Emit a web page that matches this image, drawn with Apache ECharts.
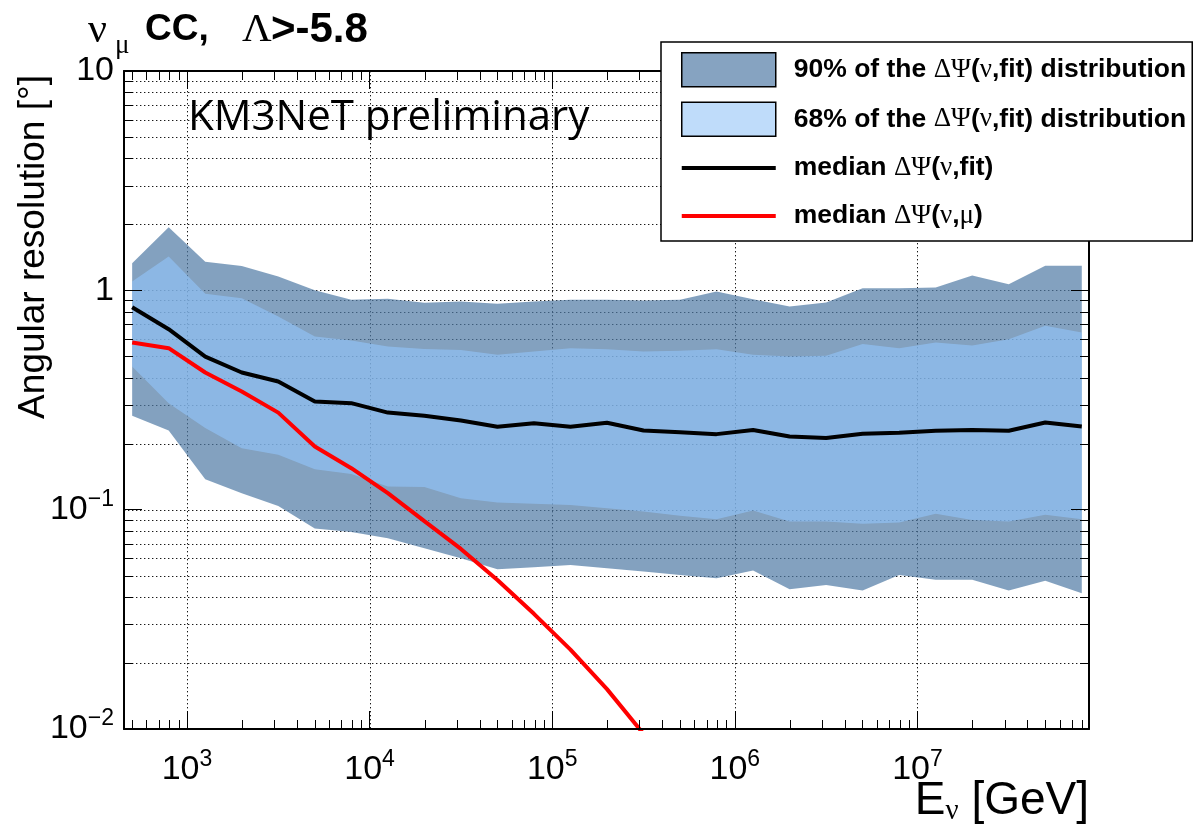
<!DOCTYPE html>
<html>
<head>
<meta charset="utf-8">
<script src="https://cdn.jsdelivr.net/npm/echarts@6/dist/echarts.min.js"></script>
<style>
  html, body { margin: 0; padding: 0; background: #ffffff; }
  #chart { width: 1195px; height: 824px; }
</style>
</head>
<body>
<div id="chart"></div>
<script>
// Neutrino energy bin centres [GeV]
const energy = [501, 794, 1259, 1995, 3162, 5012, 7943, 12589, 19953, 31623,
  50119, 79433, 125893, 199526, 316228, 501187, 794328, 1258925, 1995262,
  3162278, 5011872, 7943282, 12589254, 19952623, 31622777, 50118723, 79432823];

// 90% containment band of the fit direction error [deg]
const p90Low = [0.268, 0.2295, 0.1377, 0.1189, 0.104, 0.082, 0.079, 0.074, 0.0667, 0.0601,
  0.0535, 0.0547, 0.056, 0.0541, 0.0522, 0.0504, 0.0487, 0.0528, 0.0434, 0.0454,
  0.0428, 0.0504, 0.0479, 0.0479, 0.0428, 0.0474, 0.0416];
const p90High = [1.33, 1.94, 1.35, 1.29, 1.156, 1.0, 0.905, 0.915, 0.877, 0.889,
  0.868, 0.889, 0.905, 0.905, 0.899, 0.905, 0.987, 0.91, 0.844, 0.88,
  1.023, 1.023, 1.03, 1.168, 1.067, 1.293, 1.293];

// 68% containment band [deg]
const p68Low = [0.449, 0.306, 0.2355, 0.1907, 0.178, 0.153, 0.1456, 0.1274, 0.1267, 0.1128,
  0.1077, 0.1063, 0.105, 0.1016, 0.098, 0.0937, 0.0905, 0.099, 0.0883, 0.0883,
  0.0862, 0.0874, 0.0957, 0.0898, 0.0883, 0.0947, 0.0905];
const p68High = [1.097, 1.426, 0.964, 0.921, 0.760, 0.616, 0.591, 0.554, 0.54, 0.535,
  0.508, 0.526, 0.545, 0.539, 0.526, 0.531, 0.539, 0.508, 0.499, 0.503,
  0.570, 0.545, 0.578, 0.56, 0.599, 0.689, 0.642];

// Median angle between neutrino and reconstructed track [deg]
const medianFit = [0.838, 0.665, 0.499, 0.422, 0.384, 0.311, 0.306, 0.277, 0.268, 0.255,
  0.239, 0.248, 0.239, 0.249, 0.2295, 0.2256, 0.221, 0.231, 0.2155, 0.212,
  0.2217, 0.2245, 0.229, 0.231, 0.229, 0.2496, 0.2393];

// Median angle between neutrino and muon [deg] (first bins only)
const medianMu = [0.578, 0.545, 0.422, 0.3455, 0.277, 0.194, 0.1546, 0.119, 0.0887, 0.0662,
  0.0478, 0.0335, 0.0230, 0.0152, 0.0095];

// Axis ranges
const xMin = 452, xMax = 8.7e7;
const yMin = 0.01, yMax = 10;

// Legend entries
const legendNames = [
  '90% of the ΔΨ(ν,fit) distribution',
  '68% of the ΔΨ(ν,fit) distribution',
  'median ΔΨ(ν,fit)',
  'median ΔΨ(ν,μ)'
];
const legendRich = {
  [legendNames[0]]: '{b|90% of the }{g|ΔΨ}{b|(}{g|ν}{b|,fit) distribution}',
  [legendNames[1]]: '{b|68% of the }{g|ΔΨ}{b|(}{g|ν}{b|,fit) distribution}',
  [legendNames[2]]: '{b|median }{g|ΔΨ}{b|(}{g|ν}{b|,fit)}',
  [legendNames[3]]: '{b|median }{g|ΔΨ}{b|(}{g|ν}{b|,}{g|μ}{b|)}'
};

// Minor tick positions (2..9 times each power of ten)
function multiples(lo, hi, first) {
  const out = [];
  for (let e = -3; e <= 9; e++) {
    for (let d = first; d <= 9; d++) {
      const v = d * Math.pow(10, e);
      if (v > lo * 1.0001 && v < hi * 0.9999) out.push(v);
    }
  }
  return out;
}
const xMinor = multiples(xMin, xMax, 2);
const yMinor = multiples(yMin, yMax, 2);
const yGridLines = multiples(yMin, yMax, 1);
const xGridLines = [1e3, 1e4, 1e5, 1e6, 1e7];

const SANS = '"Liberation Sans", Arial, Helvetica, sans-serif';
const SERIF = '"Liberation Serif", "Times New Roman", serif';

const chart = echarts.init(document.getElementById('chart'), null, { renderer: 'canvas' });

function powerLabel(v) {
  const e = Math.log10(v);
  const r = Math.round(e);
  if (Math.abs(e - r) > 1e-6) return '';
  if (r === 0) return '{b|1}';
  if (r === 1) return '{b|10}';
  return '{b|10}{s|' + String(r).replace('-', '\u2212') + '}';
}
const labelRich = {
  b: { fontFamily: SANS, fontSize: 34, color: '#000', lineHeight: 40 },
  s: { fontFamily: SANS, fontSize: 23, color: '#000', lineHeight: 40, padding: [0, 0, 20, 0] }
};

function baseAxis(extra) {
  return Object.assign({
    type: 'log', logBase: 10, z: 10,
    axisLine: { show: true, onZero: false, lineStyle: { color: '#000', width: 2 } },
    axisTick: { show: true, inside: true, length: 18, lineStyle: { color: '#000', width: 1 } },
    splitLine: { show: false },
    minorTick: { show: false },
    minorSplitLine: { show: false }
  }, extra);
}

// Series used only for guide drawing (grid lines / minor ticks)
function guideSeries(z, build) {
  return {
    type: 'custom', z, silent: true,
    data: [[energy[0], medianFit[0]]],
    encode: { x: 0, y: 1 },
    renderItem: (params, api) => ({ type: 'group', children: build(params.coordSys, api) })
  };
}

const dotted = { stroke: 'rgba(0,0,0,0.9)', lineWidth: 1, lineDash: [1.4, 2.6] };

const gridGuide = guideSeries(1, (cs, api) => {
  const out = [];
  yGridLines.forEach(v => {
    const y = Math.round(api.coord([xMin, v])[1]) + 0.5;
    out.push({ type: 'line', shape: { x1: cs.x, y1: y, x2: cs.x + cs.width, y2: y }, style: dotted });
  });
  xGridLines.forEach(v => {
    const x = Math.round(api.coord([v, yMin])[0]) + 0.5;
    out.push({ type: 'line', shape: { x1: x, y1: cs.y, x2: x, y2: cs.y + cs.height }, style: dotted });
  });
  return out;
});

const tickStyle = { stroke: '#000', lineWidth: 1 };
const minorGuide = guideSeries(6, (cs, api) => {
  const out = [];
  yMinor.forEach(v => {
    const y = Math.round(api.coord([xMin, v])[1]) + 0.5;
    out.push({ type: 'line', shape: { x1: cs.x, y1: y, x2: cs.x + 9, y2: y }, style: tickStyle });
    out.push({ type: 'line', shape: { x1: cs.x + cs.width - 9, y1: y, x2: cs.x + cs.width, y2: y }, style: tickStyle });
  });
  xMinor.forEach(v => {
    const x = Math.round(api.coord([v, yMin])[0]) + 0.5;
    out.push({ type: 'line', shape: { x1: x, y1: cs.y + cs.height, x2: x, y2: cs.y + cs.height - 9 }, style: tickStyle });
    out.push({ type: 'line', shape: { x1: x, y1: cs.y, x2: x, y2: cs.y + 9 }, style: tickStyle });
  });
  return out;
});

// Filled containment band between two curves
function bandSeries(name, low, high, fill, legendColor, z) {
  return {
    type: 'custom', name, z,
    data: energy.map((e, i) => [e, low[i], high[i]]),
    encode: { x: 0, y: [1, 2] },
    itemStyle: { color: legendColor },
    renderItem: (params, api) => {
      if (params.dataIndex !== 0) return null;
      const pts = [];
      for (let i = 0; i < energy.length; i++) pts.push(api.coord([energy[i], high[i]]));
      for (let i = energy.length - 1; i >= 0; i--) pts.push(api.coord([energy[i], low[i]]));
      return { type: 'polygon', shape: { points: pts }, style: { fill, stroke: null } };
    }
  };
}

// Legend line marker: thick stroke centred in a full-height box
const lineIcon = 'path://M0,0 L0.01,0 Z M0,15 L100,15 L100,19.4 L0,19.4 Z M0,34.4 L0.01,34.4 Z';

const option = {
  animation: false,
  backgroundColor: '#ffffff',
  grid: { left: 124, top: 71, width: 965, height: 658, containLabel: false },
  xAxis: [
    baseAxis({
      position: 'bottom', min: xMin, max: xMax,
      axisLabel: { show: true, margin: 21, formatter: powerLabel, rich: labelRich,
        showMinLabel: false, showMaxLabel: false }
    }),
    baseAxis({ position: 'top', min: xMin, max: xMax, axisLabel: { show: false } })
  ],
  yAxis: [
    baseAxis({
      position: 'left', min: yMin, max: yMax,
      axisLabel: { show: true, margin: 10, formatter: powerLabel, rich: labelRich }
    }),
    baseAxis({ position: 'right', min: yMin, max: yMax, axisLabel: { show: false } })
  ],
  legend: {
    orient: 'vertical', left: 661, top: 42,
    padding: [10, 6, 8, 20],
    itemWidth: 94, itemHeight: 34, itemGap: 14,
    borderColor: '#000', borderWidth: 1.5, backgroundColor: '#ffffff',
    selectedMode: false, z: 20,
    formatter: name => legendRich[name],
    textStyle: {
      padding: [0, 0, 0, 13],
      lineHeight: 34,
      rich: {
        b: { fontFamily: SANS, fontWeight: 'bold', fontSize: 26.5, color: '#000', lineHeight: 34 },
        g: { fontFamily: SERIF, fontSize: 27, color: '#000', lineHeight: 34 }
      }
    },
    data: [
      { name: legendNames[0], icon: 'rect', itemStyle: { color: '#86a3c1', borderColor: '#000', borderWidth: 1.5 } },
      { name: legendNames[1], icon: 'rect', itemStyle: { color: '#bfdcfa', borderColor: '#000', borderWidth: 1.5 } },
      { name: legendNames[2], icon: lineIcon, itemStyle: { color: '#000000', borderWidth: 0 } },
      { name: legendNames[3], icon: lineIcon, itemStyle: { color: '#ff0000', borderWidth: 0 } }
    ]
  },
  series: [
    gridGuide,
    bandSeries(legendNames[0], p90Low, p90High, 'rgba(79,121,164,0.7)', '#86a3c1', 2),
    bandSeries(legendNames[1], p68Low, p68High, 'rgba(147,199,253,0.6)', '#bfdcfa', 3),
    {
      type: 'line', name: legendNames[2], z: 4,
      data: energy.map((e, i) => [e, medianFit[i]]),
      showSymbol: false, symbol: 'none',
      lineStyle: { color: '#000000', width: 4 },
      itemStyle: { color: '#000000' }
    },
    {
      type: 'line', name: legendNames[3], z: 5, clip: true,
      data: medianMu.map((v, i) => [energy[i], v]),
      showSymbol: false, symbol: 'none',
      lineStyle: { color: '#ff0000', width: 4 },
      itemStyle: { color: '#ff0000' }
    },
    minorGuide
  ],
  graphic: [
    // Title
    { type: 'text', x: 88, y: 31, style: { text: 'ν', font: '42px ' + SERIF, fill: '#000', verticalAlign: 'middle' } },
    { type: 'text', x: 115, y: 46, style: { text: 'μ', font: '27px ' + SERIF, fill: '#000', verticalAlign: 'middle' } },
    { type: 'text', x: 145, y: 30, style: { text: 'CC,', font: 'bold 37px ' + SANS, fill: '#000', verticalAlign: 'middle' } },
    { type: 'text', x: 242, y: 30, style: { text: 'Λ', font: '41px ' + SERIF, fill: '#000', verticalAlign: 'middle' } },
    { type: 'text', x: 271, y: 30, style: { text: '>-5.8', font: 'bold 42px ' + SANS, fill: '#000', verticalAlign: 'middle' } },
    // Experiment tag
    { type: 'text', x: 188, y: 118, z: 15, style: { text: 'KM3NeT preliminary', font: '42px "Open Sans", sans-serif', fill: '#000', verticalAlign: 'middle' } },
    // Axis titles
    { type: 'text', x: 34, y: 75, rotation: Math.PI / 2, style: { text: 'Angular resolution [°]', font: '37px ' + SANS, fill: '#000', align: 'right', verticalAlign: 'middle' } },
    { type: 'text', x: 1089, y: 801, style: {
        text: '{a|E}{s|ν}{a| [GeV]}', align: 'right', verticalAlign: 'middle',
        rich: {
          a: { fontFamily: SANS, fontSize: 46, color: '#000', lineHeight: 50 },
          s: { fontFamily: SERIF, fontSize: 29, color: '#000', lineHeight: 50, padding: [20, 0, 0, 0] }
        }
      } }
  ]
};

chart.setOption(option);
</script>
</body>
</html>
